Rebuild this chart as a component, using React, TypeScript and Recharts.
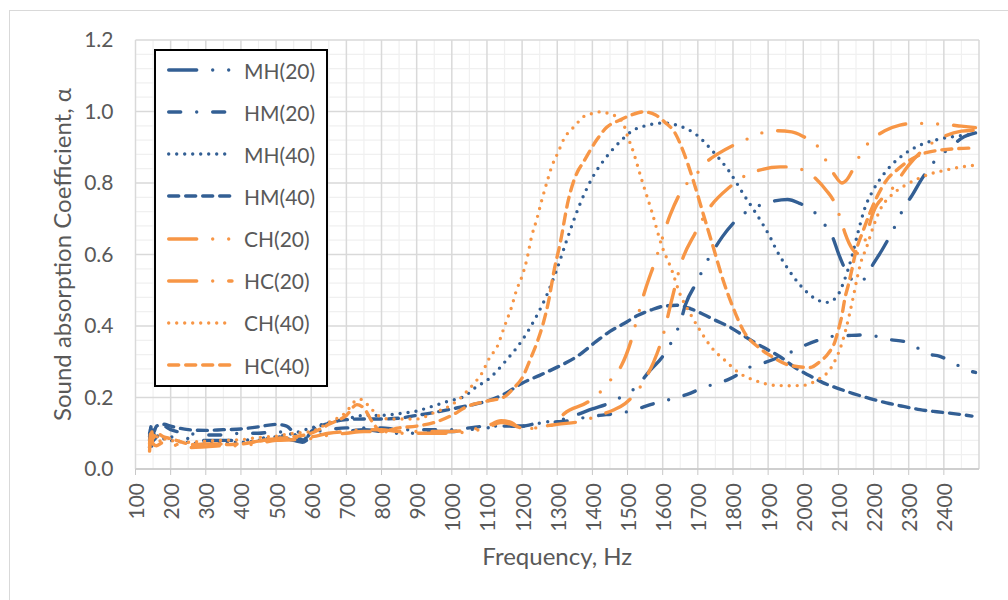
import React from "react";
import { LineChart, Line, XAxis, YAxis, CartesianGrid, Legend, Label } from "recharts";

type Pt = [number, number];

const BLUE = "#335F94";
const ORANGE = "#F79646";
const TEXT = "#595959";
const FONT = "Lato, 'Open Sans', sans-serif";

const xTicks = [100, 200, 300, 400, 500, 600, 700, 800, 900, 1000, 1100, 1200, 1300, 1400, 1500, 1600, 1700, 1800, 1900, 2000, 2100, 2200, 2300, 2400];
const xGridMajor = [100, 200, 300, 400, 500, 600, 700, 800, 900, 1000, 1100, 1200, 1300, 1400, 1500, 1600, 1700, 1800, 1900, 2000, 2100, 2200, 2300, 2400, 2500];
const xGridMinor = [150, 250, 350, 450, 550, 650, 750, 850, 950, 1050, 1150, 1250, 1350, 1450, 1550, 1650, 1750, 1850, 1950, 2050, 2150, 2250, 2350, 2450];
const yTicks = [0, 0.2, 0.4, 0.6, 0.8, 1.0, 1.2];
const yGridMinor = [0.04, 0.08, 0.12, 0.16, 0.24, 0.28, 0.32, 0.36, 0.44, 0.48, 0.52, 0.56, 0.64, 0.68, 0.72, 0.76, 0.84, 0.88, 0.92, 0.96, 1.04, 1.08, 1.12, 1.16];

// [frequency Hz, absorption coefficient]
const mh20: Pt[] = [
  [140, 0.06], [145, 0.1], [150, 0.08], [160, 0.09], [180, 0.1], [200, 0.09], [250, 0.085], [300, 0.08], [350, 0.08], [400, 0.08],
  [450, 0.085], [500, 0.09], [550, 0.08], [575, 0.075], [600, 0.09], [650, 0.1], [700, 0.105], [750, 0.11], [800, 0.105], [850, 0.1],
  [900, 0.1], [950, 0.105], [1000, 0.105], [1050, 0.11], [1100, 0.115], [1150, 0.12], [1200, 0.12], [1250, 0.13], [1300, 0.135], [1350, 0.15],
  [1400, 0.168], [1450, 0.185], [1490, 0.206], [1526, 0.23], [1564, 0.276], [1600, 0.315], [1630, 0.365], [1650, 0.41], [1665, 0.46], [1700, 0.528],
  [1720, 0.57], [1745, 0.612], [1770, 0.65], [1825, 0.71], [1870, 0.735], [1910, 0.748], [1955, 0.754], [1990, 0.743], [2030, 0.72], [2060, 0.685],
  [2085, 0.645], [2100, 0.603], [2140, 0.528], [2160, 0.52], [2175, 0.533], [2200, 0.575], [2225, 0.614], [2265, 0.687], [2285, 0.729], [2310, 0.766],
  [2335, 0.808], [2380, 0.868], [2420, 0.9], [2450, 0.925], [2490, 0.94],
];

const hm20: Pt[] = [
  [140, 0.08], [145, 0.12], [150, 0.09], [160, 0.11], [180, 0.12], [200, 0.11], [250, 0.1], [300, 0.095], [350, 0.095], [400, 0.1],
  [450, 0.1], [500, 0.105], [550, 0.09], [575, 0.08], [600, 0.1], [650, 0.11], [700, 0.115], [750, 0.115], [800, 0.115], [850, 0.11],
  [900, 0.11], [950, 0.11], [1000, 0.11], [1050, 0.115], [1100, 0.12], [1150, 0.12], [1200, 0.12], [1250, 0.128], [1300, 0.132], [1350, 0.137],
  [1385, 0.146], [1420, 0.15], [1480, 0.157], [1512, 0.163], [1550, 0.175], [1592, 0.188], [1630, 0.197], [1670, 0.209], [1715, 0.227], [1744, 0.237],
  [1786, 0.25], [1820, 0.268], [1848, 0.285], [1891, 0.298], [1934, 0.314], [1967, 0.328], [2005, 0.346], [2048, 0.362], [2081, 0.371], [2123, 0.373],
  [2171, 0.375], [2204, 0.372], [2247, 0.362], [2289, 0.356], [2318, 0.343], [2351, 0.323], [2389, 0.315], [2422, 0.3], [2463, 0.278], [2490, 0.27],
];

const mh40: Pt[] = [
  [140, 0.1], [145, 0.06], [150, 0.11], [160, 0.09], [180, 0.085], [200, 0.08], [250, 0.075], [300, 0.07], [350, 0.075], [400, 0.075],
  [450, 0.08], [500, 0.09], [550, 0.1], [600, 0.115], [650, 0.13], [700, 0.14], [750, 0.15], [800, 0.15], [850, 0.155], [900, 0.162],
  [940, 0.174], [985, 0.188], [1040, 0.206], [1070, 0.23], [1100, 0.248], [1155, 0.304], [1200, 0.36], [1245, 0.435], [1270, 0.486], [1298, 0.556],
  [1327, 0.64], [1360, 0.73], [1400, 0.815], [1440, 0.873], [1478, 0.915], [1512, 0.945], [1559, 0.962], [1606, 0.968], [1649, 0.959], [1692, 0.938],
  [1744, 0.887], [1791, 0.83], [1829, 0.77], [1872, 0.705], [1905, 0.65], [1924, 0.612], [1953, 0.565], [1995, 0.51], [2033, 0.477], [2066, 0.466],
  [2094, 0.48], [2115, 0.523], [2138, 0.593], [2156, 0.663], [2175, 0.729], [2199, 0.78], [2223, 0.817], [2251, 0.85], [2289, 0.882], [2332, 0.906],
  [2375, 0.92], [2422, 0.929], [2474, 0.936], [2490, 0.94],
];

const hm40: Pt[] = [
  [140, 0.09], [145, 0.12], [150, 0.1], [160, 0.12], [180, 0.125], [200, 0.12], [250, 0.11], [300, 0.108], [350, 0.11], [400, 0.112],
  [450, 0.118], [500, 0.125], [530, 0.12], [560, 0.09], [580, 0.08], [600, 0.105], [650, 0.128], [700, 0.138], [750, 0.14], [800, 0.14],
  [850, 0.142], [900, 0.15], [950, 0.158], [1000, 0.168], [1050, 0.178], [1100, 0.19], [1150, 0.21], [1200, 0.24], [1250, 0.262], [1300, 0.285],
  [1355, 0.314], [1410, 0.356], [1450, 0.385], [1490, 0.407], [1530, 0.43], [1565, 0.444], [1600, 0.455], [1640, 0.458], [1680, 0.448], [1715, 0.433],
  [1750, 0.416], [1791, 0.397], [1830, 0.373], [1867, 0.351], [1900, 0.333], [1934, 0.314], [1981, 0.281], [2020, 0.26], [2057, 0.241], [2100, 0.225],
  [2142, 0.211], [2190, 0.197], [2237, 0.185], [2285, 0.175], [2332, 0.166], [2380, 0.16], [2427, 0.155], [2480, 0.148],
];

const ch20: Pt[] = [
  [140, 0.05], [145, 0.1], [150, 0.06], [160, 0.08], [180, 0.075], [200, 0.07], [250, 0.06], [300, 0.062], [350, 0.065], [400, 0.065],
  [450, 0.072], [500, 0.08], [550, 0.082], [600, 0.085], [650, 0.095], [700, 0.1], [750, 0.105], [800, 0.105], [850, 0.1], [900, 0.1],
  [950, 0.1], [1000, 0.1], [1050, 0.105], [1100, 0.115], [1140, 0.13], [1170, 0.125], [1200, 0.115], [1250, 0.115], [1290, 0.125], [1320, 0.155],
  [1388, 0.188], [1423, 0.216], [1455, 0.253], [1483, 0.29], [1512, 0.365], [1526, 0.416], [1550, 0.5], [1578, 0.58], [1621, 0.71], [1658, 0.785],
  [1692, 0.82], [1722, 0.856], [1758, 0.882], [1800, 0.905], [1834, 0.92], [1875, 0.938], [1921, 0.946], [1967, 0.943], [2000, 0.93], [2038, 0.906],
  [2064, 0.864], [2088, 0.824], [2110, 0.8], [2123, 0.808], [2145, 0.845], [2166, 0.887], [2194, 0.92], [2232, 0.946], [2275, 0.962], [2320, 0.967],
  [2360, 0.966], [2403, 0.964], [2450, 0.959], [2490, 0.955],
];

const hc20: Pt[] = [
  [140, 0.06], [145, 0.09], [150, 0.07], [160, 0.065], [180, 0.075], [200, 0.07], [250, 0.068], [300, 0.07], [350, 0.07], [400, 0.07],
  [450, 0.078], [500, 0.085], [550, 0.088], [600, 0.09], [650, 0.1], [700, 0.105], [750, 0.11], [800, 0.11], [850, 0.105], [900, 0.105],
  [950, 0.105], [1000, 0.105], [1050, 0.11], [1100, 0.12], [1140, 0.135], [1170, 0.13], [1200, 0.11], [1250, 0.118], [1300, 0.125], [1374, 0.135],
  [1417, 0.15], [1460, 0.165], [1493, 0.183], [1526, 0.216], [1554, 0.258], [1584, 0.323], [1600, 0.37], [1625, 0.47], [1654, 0.58], [1692, 0.659],
  [1735, 0.733], [1791, 0.789], [1834, 0.82], [1875, 0.836], [1934, 0.845], [1957, 0.845], [2000, 0.836], [2038, 0.81], [2065, 0.78], [2090, 0.743],
  [2106, 0.7], [2119, 0.659], [2140, 0.615], [2153, 0.603], [2170, 0.625], [2200, 0.72], [2250, 0.78], [2300, 0.85], [2350, 0.9], [2400, 0.93],
  [2450, 0.945], [2490, 0.948],
];

const ch40: Pt[] = [
  [140, 0.07], [145, 0.1], [150, 0.08], [160, 0.09], [180, 0.085], [200, 0.08], [250, 0.075], [300, 0.078], [350, 0.08], [400, 0.082],
  [450, 0.088], [500, 0.092], [550, 0.1], [600, 0.105], [650, 0.13], [700, 0.16], [725, 0.19], [740, 0.195], [760, 0.18], [790, 0.15],
  [820, 0.14], [860, 0.14], [900, 0.14], [950, 0.158], [1000, 0.18], [1023, 0.197], [1042, 0.216], [1064, 0.24], [1085, 0.267], [1109, 0.314],
  [1128, 0.34], [1151, 0.402], [1170, 0.453], [1184, 0.5], [1199, 0.537], [1213, 0.584], [1227, 0.65], [1241, 0.696], [1256, 0.752], [1270, 0.8],
  [1284, 0.845], [1303, 0.887], [1322, 0.929], [1341, 0.95], [1360, 0.971], [1374, 0.985], [1398, 0.994], [1421, 0.999], [1445, 0.995], [1469, 0.985],
  [1488, 0.966], [1502, 0.925], [1512, 0.9], [1540, 0.81], [1569, 0.72], [1597, 0.626], [1626, 0.556], [1649, 0.49], [1678, 0.435], [1706, 0.388],
  [1739, 0.34], [1777, 0.304], [1820, 0.267], [1862, 0.248], [1919, 0.234], [1960, 0.233], [2000, 0.234], [2038, 0.248], [2081, 0.286], [2106, 0.34],
  [2121, 0.39], [2132, 0.435], [2142, 0.48], [2152, 0.528], [2163, 0.575], [2180, 0.62], [2199, 0.677], [2218, 0.724], [2251, 0.766], [2284, 0.79],
  [2322, 0.81], [2360, 0.825], [2400, 0.835], [2450, 0.845], [2490, 0.85],
];

const hc40: Pt[] = [
  [140, 0.07], [145, 0.11], [150, 0.085], [160, 0.1], [180, 0.09], [200, 0.085], [250, 0.07], [300, 0.065], [350, 0.068], [400, 0.07],
  [450, 0.078], [500, 0.085], [550, 0.09], [600, 0.1], [650, 0.125], [700, 0.15], [730, 0.18], [750, 0.17], [775, 0.13], [800, 0.105],
  [850, 0.115], [900, 0.12], [950, 0.13], [1000, 0.15], [1042, 0.174], [1100, 0.19], [1146, 0.2], [1175, 0.225], [1203, 0.26], [1222, 0.304],
  [1241, 0.35], [1260, 0.407], [1274, 0.463], [1293, 0.565], [1308, 0.63], [1331, 0.75], [1360, 0.836], [1369, 0.85], [1412, 0.92], [1440, 0.955],
  [1478, 0.976], [1510, 0.99], [1545, 0.999], [1580, 0.99], [1606, 0.97], [1635, 0.94], [1658, 0.89], [1686, 0.81], [1715, 0.715], [1744, 0.62],
  [1772, 0.528], [1801, 0.45], [1829, 0.388], [1877, 0.337], [1905, 0.318], [1962, 0.29], [2019, 0.284], [2047, 0.3], [2071, 0.323], [2090, 0.356],
  [2100, 0.39], [2109, 0.425], [2119, 0.48], [2128, 0.514], [2138, 0.556], [2147, 0.598], [2171, 0.668], [2209, 0.76], [2237, 0.808], [2266, 0.836],
  [2303, 0.864], [2341, 0.882], [2389, 0.892], [2436, 0.896], [2490, 0.898],
];

const LONG_DASH_DOT_DOT = "28 16 0 16 0 16";
const DASH_DOT = "12 16 0 16";
const ROUND_DOT = "0 8";
const DASH = "10 7";
const LONG_DASH_DOT = "28 16 0 16";

const series = [
  { name: "MH(20)", data: mh20, color: BLUE, dash: LONG_DASH_DOT_DOT },
  { name: "HM(20)", data: hm20, color: BLUE, dash: DASH_DOT },
  { name: "MH(40)", data: mh40, color: BLUE, dash: ROUND_DOT },
  { name: "HM(40)", data: hm40, color: BLUE, dash: DASH },
  { name: "CH(20)", data: ch20, color: ORANGE, dash: LONG_DASH_DOT_DOT },
  { name: "HC(20)", data: hc20, color: ORANGE, dash: LONG_DASH_DOT },
  { name: "CH(40)", data: ch40, color: ORANGE, dash: ROUND_DOT },
  { name: "HC(40)", data: hc40, color: ORANGE, dash: DASH },
];

const toRows = (pts: Pt[]) => pts.map(([f, a]) => ({ f, a }));

const LINE_W = 3.4;
const TITLE_SIZE = 24;

function XTick(props: any) {
  const { x, y, payload } = props;
  return (
    <text
      x={x}
      y={y}
      transform={`rotate(-90 ${x} ${y})`}
      textAnchor="end"
      dominantBaseline="central"
      fill={TEXT}
      fontSize={21}
      fontFamily={FONT}
    >
      {payload.value}
    </text>
  );
}

function LegendBox() {
  return (
    <div
      style={{
        width: 174,
        height: 338,
        boxSizing: "border-box",
        border: "2px solid #000",
        background: "#fff",
        fontFamily: FONT,
        fontSize: 21,
        color: TEXT,
      }}
    >
      <div style={{ marginTop: -2 }}>
        {series.map((s) => (
          <div key={s.name} style={{ height: 42.15, display: "flex", alignItems: "center" }}>
            <svg width={88} height={12} style={{ display: "block", flex: "none" }}>
              <line
                x1={12.7}
                y1={6}
                x2={76}
                y2={6}
                stroke={s.color}
                strokeWidth={LINE_W}
                strokeDasharray={s.dash}
                strokeLinecap="round"
              />
            </svg>
            <span style={{ lineHeight: 1 }}>{s.name}</span>
          </div>
        ))}
      </div>
    </div>
  );
}

export default function App() {
  return (
    <div
      style={{
        position: "absolute",
        left: 0,
        top: 0,
        width: 1008,
        height: 600,
        overflow: "hidden",
        background: "#fff",
        fontFamily: FONT,
      }}
    >
      <div
        style={{
          position: "absolute",
          left: 9,
          top: 10,
          width: 1100,
          height: 700,
          border: "1px solid #D9D9D9",
        }}
      />
      <div style={{ position: "absolute", left: 0, top: 0 }}>
        <LineChart width={1008} height={600} margin={{ top: 40, right: 29, bottom: 0, left: 0 }}>
          <CartesianGrid
            stroke="#F0F0F0"
            strokeWidth={1.2}
            horizontalValues={yGridMinor}
            verticalValues={xGridMinor}
          />
          <CartesianGrid
            stroke="#D9D9D9"
            strokeWidth={1.5}
            horizontalValues={yTicks}
            verticalValues={xGridMajor}
          />
          <XAxis
            type="number"
            dataKey="f"
            domain={[100, 2500]}
            ticks={xTicks}
            interval={0}
            height={131}
            tick={<XTick />}
            tickSize={6}
            tickMargin={8}
            tickLine={{ stroke: "#C8C8C8" }}
            axisLine={{ stroke: "#C8C8C8", strokeWidth: 1.5 }}
            allowDataOverflow
          >
            <Label
              content={(p: any) => {
                const vb = p.viewBox || { x: 135.5, y: 469, width: 843.5, height: 131 };
                return (
                  <text
                    x={vb.x + vb.width / 2}
                    y={vb.y + 86}
                    textAnchor="middle"
                    dominantBaseline="central"
                    fill={TEXT}
                    fontSize={TITLE_SIZE}
                    fontFamily={FONT}
                  >
                    Frequency, Hz
                  </text>
                );
              }}
            />
          </XAxis>
          <YAxis
            type="number"
            domain={[0, 1.2]}
            ticks={yTicks}
            interval={0}
            width={135.5}
            tickFormatter={(v: number) => v.toFixed(1)}
            tick={{ fill: TEXT, fontSize: 21, fontFamily: FONT }}
            tickLine={false}
            axisLine={false}
            tickSize={0}
            tickMargin={22}
            allowDataOverflow
          >
            <Label
              content={(p: any) => {
                const vb = p.viewBox || { x: 0, y: 40, width: 135.5, height: 429 };
                const cx = vb.x + 61;
                const cy = vb.y + vb.height / 2;
                return (
                  <text
                    x={cx}
                    y={cy}
                    transform={`rotate(-90 ${cx} ${cy})`}
                    textAnchor="middle"
                    dominantBaseline="central"
                    fill={TEXT}
                    fontSize={TITLE_SIZE}
                    fontFamily={FONT}
                  >
                    Sound absorption Coefficient, α
                  </text>
                );
              }}
            />
          </YAxis>
          {series.map((s) => (
            <Line
              key={s.name}
              name={s.name}
              data={toRows(s.data)}
              dataKey="a"
              type="monotone"
              stroke={s.color}
              strokeWidth={LINE_W}
              strokeDasharray={s.dash}
              strokeLinecap="round"
              dot={false}
              activeDot={false}
              isAnimationActive={false}
            />
          ))}
          <Legend
            layout="vertical"
            align="center"
            verticalAlign="middle"
            width={174}
            height={338}
            wrapperStyle={{ left: 154, top: 49, width: 174, height: 338 }}
            content={() => <LegendBox />}
          />
        </LineChart>
      </div>
    </div>
  );
}
